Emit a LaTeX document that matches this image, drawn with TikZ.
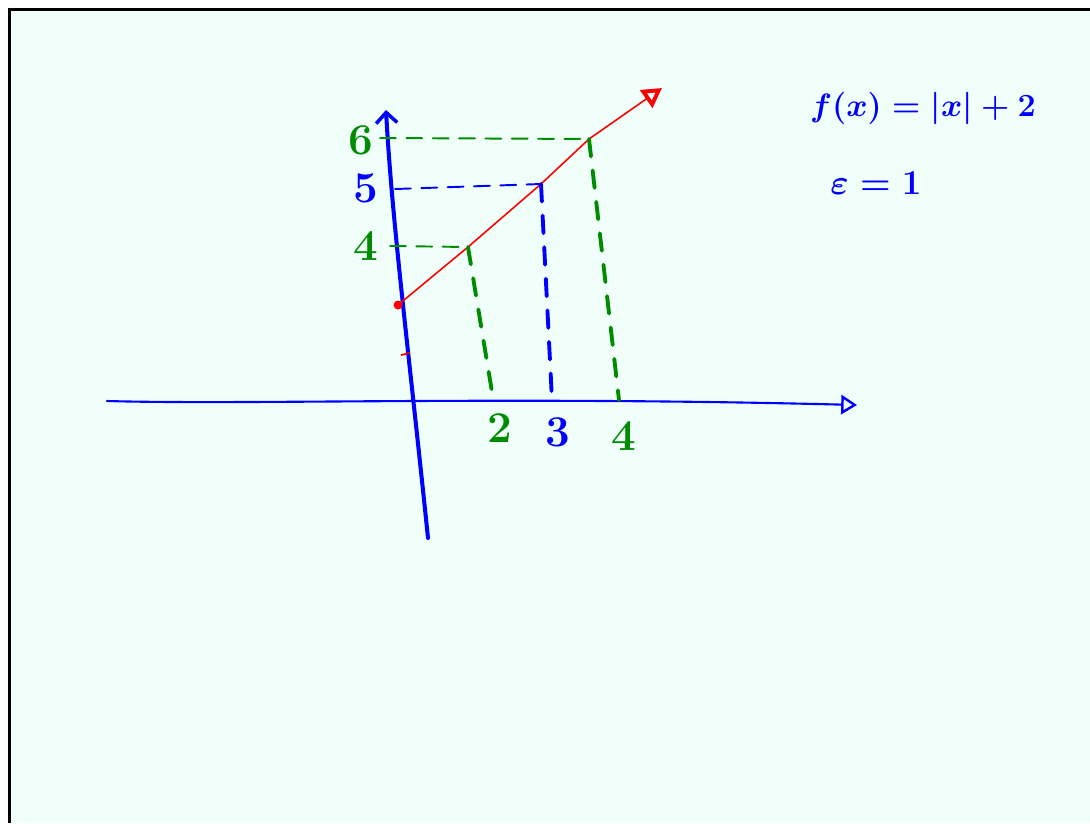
\documentclass[tikz,border=0pt]{standalone}
\usepackage{graphicx}
\usetikzlibrary{arrows.meta}
\definecolor{boardcyan}{RGB}{240,255,250}
\definecolor{penblue}{RGB}{0,0,255}
\definecolor{pengreen}{RGB}{0,140,0}
\definecolor{penred}{RGB}{255,0,0}
\tikzset{
  axisline/.style={penblue, line cap=round, line join=round},
  helpline/.style={line width=1.1pt, dash pattern=on 9pt off 6pt, line cap=round},
  dropline/.style={line width=2.2pt, dash pattern=on 10pt off 8pt, line cap=round},
  handlabel/.style={font=\fontsize{25}{29}\selectfont\bfseries\boldmath, inner sep=0pt}
}
\begin{document}
\begin{tikzpicture}[x=0.02cm, y=-0.02cm]
    % Board and frame
    \useasboundingbox (0,0) rectangle (1090,823);
    \fill[white] (0,0) rectangle (1090,823);
    \fill[boardcyan] (8,8) rectangle (1090,823);
    \draw[line width=1.7pt] (9.5,823) -- (9.5,9.5) -- (1090,9.5);

    % Named points
    \coordinate (xl) at (107,401);
    \coordinate (xr) at (857,405);
    \coordinate (yb) at (428,538);
    \coordinate (yt) at (386,110);
    \coordinate (p0) at (398,305);
    \coordinate (p2) at (468,247);
    \coordinate (p3) at (541,184);
    \coordinate (p4) at (589,139);
    \coordinate (pe) at (662,88);
    \coordinate (t4) at (390,246);
    \coordinate (t5) at (395,189);
    \coordinate (t6) at (380,138);
    \coordinate (f2) at (492,392);
    \coordinate (f3) at (552,400);
    \coordinate (f4) at (619,400);

    % Draw axes
    \draw[axisline, line width=1.2pt, -{Triangle[open, length=9pt, width=11pt, line width=1.4pt]}]
      (xl) .. controls (250,405) and (500,396) .. (xr);
    \draw[axisline, line width=2.3pt, -{Straight Barb[length=6pt, width=12pt, line width=2pt]}]
      (yb) .. controls (408,345) and (392,220) .. (yt);

    % Draw the red line
    \draw[penred, line width=0.9pt, -{Triangle[open, length=11pt, width=12pt, line width=2.2pt]}]
      (p0) -- (p2) -- (p3) -- (p4) -- (pe);
    \fill[penred] (p0) circle (4.5);
    \draw[penred, line width=1pt] (401,355) -- (410,353);

    % Draw dashed helper lines
    \draw[pengreen, helpline] (t6) -- (p4);
    \draw[penblue, helpline] (t5) -- (p3);
    \draw[pengreen, helpline] (t4) -- (p2);
    \draw[pengreen, dropline] (p2) -- (f2);
    \draw[penblue, dropline] (p3) -- (f3);
    \draw[pengreen, dropline] (p4) -- (f4);

    % Labels on the axes
    \node[handlabel, pengreen] (l6) at (361,140) {6};
    \node[handlabel, penblue] (l5) at (366,188) {5};
    \node[handlabel, pengreen] (l4) at (366,246) {4};
    \node[handlabel, pengreen] (l2) at (500,428) {2};
    \node[handlabel, penblue] (l3) at (558,432) {3};
    \node[handlabel, pengreen] (l4x) at (624,436) {4};

    % Function and epsilon
    \node[handlabel, penblue] (fx) at (923,108) {\scalebox{0.74}{$f(x)=|x|+2$}};
    \node[handlabel, penblue] (eps) at (876,183) {\scalebox{0.8}{$\varepsilon=1$}};
\end{tikzpicture}
\end{document}
